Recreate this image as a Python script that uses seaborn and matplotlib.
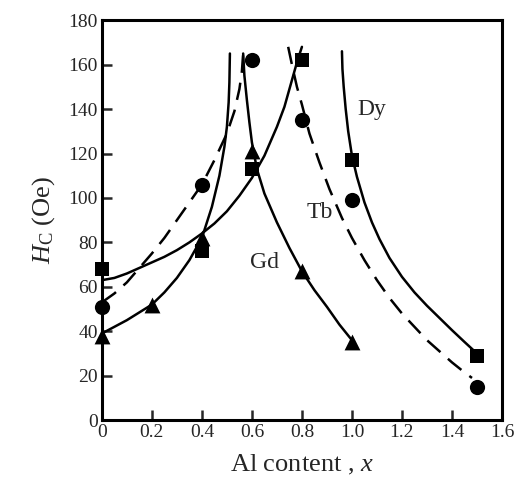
import numpy as np
import pandas as pd
import matplotlib
matplotlib.use("Agg")
import matplotlib.pyplot as plt
import seaborn as sns

# ---- measured points (Al content x, coercivity Hc in Oe) ----
dy_x = [0, 0.4, 0.6, 0.8, 1.0, 1.5]
dy_hc = [68, 76, 113, 162, 117, 29]
tb_x = [0, 0.4, 0.6, 0.8, 1.0, 1.5]
tb_hc = [51, 106, 162, 135, 99, 15]
gd_x = [0, 0.2, 0.4, 0.6, 0.8, 1.0]
gd_hc = [38, 52, 82, 121, 67, 35]

# ---- hand-drawn guide curves ----
dy_left_x = [0, 0.05, 0.1, 0.15, 0.2, 0.25, 0.3, 0.35, 0.4, 0.45, 0.5,
             0.55, 0.6, 0.65, 0.7, 0.73, 0.76, 0.78, 0.8]
dy_left_y = [63, 64, 66, 68.5, 71, 73.5, 76.5, 80, 84, 88.5, 94,
             101, 109, 119, 132, 141, 153, 161, 168]
dy_right_x = [0.96, 0.962, 0.967, 0.975, 0.985, 1.0, 1.02, 1.05, 1.08, 1.11,
              1.15, 1.2, 1.25, 1.3, 1.35, 1.4, 1.45, 1.5]
dy_right_y = [166, 158, 150, 140, 130, 119, 109.5, 98, 89, 81.5,
              73, 64.5, 57.5, 51.5, 46, 40.5, 35.2, 30]

tb_left_x = [0, 0.05, 0.1, 0.15, 0.2, 0.25, 0.3, 0.35, 0.4, 0.45, 0.5,
             0.53, 0.55, 0.56, 0.565]
tb_left_y = [53, 57, 62, 68.5, 75, 82, 90, 98, 106, 117, 129,
             139, 149, 157, 165]
tb_right_x = [0.745, 0.76, 0.78, 0.8, 0.83, 0.87, 0.91, 0.96, 1.0, 1.05, 1.1,
              1.15, 1.2, 1.25, 1.3, 1.35, 1.4, 1.45, 1.48]
tb_right_y = [168, 160, 150, 142, 129, 116, 104, 91, 82, 72, 63,
              55, 48, 42, 36, 31, 26, 21.5, 19]

gd_left_x = [0, 0.05, 0.1, 0.15, 0.2, 0.25, 0.3, 0.35, 0.4, 0.44, 0.47,
             0.49, 0.5, 0.507, 0.51, 0.512]
gd_left_y = [39, 42, 45, 48.5, 52, 57.5, 64, 72, 82, 96, 110,
             123, 132, 143, 152, 165]
gd_right_x = [0.565, 0.57, 0.58, 0.59, 0.6, 0.62, 0.65, 0.7, 0.75, 0.8,
              0.85, 0.9, 0.95, 1.0]
gd_right_y = [165, 155, 144, 134, 125, 113, 102, 89, 77.5, 67,
              58.5, 51, 43, 36]

x_ticks = [0, 0.2, 0.4, 0.6, 0.8, 1.0, 1.2, 1.4, 1.6]
x_tick_labels = ["0", "0.2", "0.4", "0.6", "0.8", "1.0", "1.2", "1.4", "1.6"]
y_ticks = [0, 20, 40, 60, 80, 100, 120, 140, 160, 180]

sns.set_style("white")
plt.rcParams["font.family"] = ["Liberation Serif", "DejaVu Serif"]
plt.rcParams["mathtext.fontset"] = "custom"
plt.rcParams["mathtext.rm"] = "Liberation Serif"
plt.rcParams["mathtext.it"] = "Liberation Serif:italic"

fig = plt.figure(figsize=(5.17, 4.92), dpi=100)
ax = fig.add_axes([0.197, 0.146, 0.774, 0.813])

lw = 1.8
# solid curves (Dy, Gd)
for xs, ys in [(dy_left_x, dy_left_y), (dy_right_x, dy_right_y),
               (gd_left_x, gd_left_y), (gd_right_x, gd_right_y)]:
    sns.lineplot(x=xs, y=ys, sort=False, estimator=None, color="black",
                 linewidth=lw, ax=ax)
# dashed curves (Tb)
for xs, ys in [(tb_left_x, tb_left_y), (tb_right_x, tb_right_y)]:
    sns.lineplot(x=xs, y=ys, sort=False, estimator=None, color="black",
                 linewidth=lw, ax=ax)
    ax.lines[-1].set_dashes((7, 4))

# markers
sns.scatterplot(x=dy_x, y=dy_hc, marker="s", s=110, color="black",
                linewidth=0, ax=ax, clip_on=False, zorder=5)
sns.scatterplot(x=tb_x, y=tb_hc, marker="o", s=120, color="black",
                linewidth=0, ax=ax, clip_on=False, zorder=5)
sns.scatterplot(x=gd_x, y=gd_hc, marker="^", s=130, color="black",
                linewidth=0, ax=ax, clip_on=False, zorder=5)

ax.text(1.08, 140, "Dy", fontsize=17, ha="center", va="center")
ax.text(0.87, 93.5, "Tb", fontsize=17, ha="center", va="center")
ax.text(0.65, 71, "Gd", fontsize=17, ha="center", va="center")

ax.set_xlim(0, 1.6)
ax.set_ylim(0, 180)
ax.set_xticks(x_ticks)
ax.set_xticklabels(x_tick_labels)
ax.set_yticks(y_ticks)
ax.tick_params(direction="in", length=7, width=1.8, labelsize=14,
               top=False, right=False, bottom=True, left=True, pad=3)
for sp in ax.spines.values():
    sp.set_linewidth(2.2)
    sp.set_color("black")

ax.set_xlabel("Al content , $\\mathit{x}$", fontsize=19, labelpad=8)
ax.set_ylabel("$\\mathit{H}_{\\mathrm{C}}$ (Oe)", fontsize=19, labelpad=8)

fig.savefig("out.png", dpi=100)
